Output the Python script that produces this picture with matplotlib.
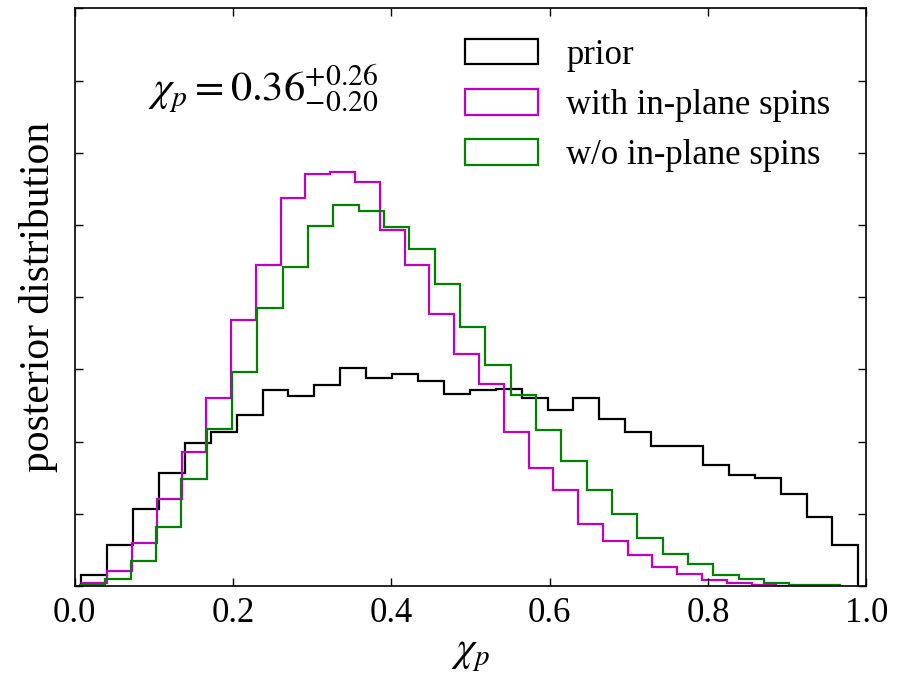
import numpy as np
import matplotlib
matplotlib.use("Agg")
import matplotlib.pyplot as plt
from matplotlib.patches import Patch

plt.rcParams['font.family'] = ['Liberation Serif', 'DejaVu Serif']
plt.rcParams['mathtext.fontset'] = 'stix'

# sample ranges of each histogram (30 bins each)
prior_range = (0.0085, 0.990)
with_range = (0.010, 0.949)
wo_range = (0.0067, 0.967)

prior_h = [0.15, 0.57, 1.06, 1.56, 1.98, 2.13, 2.37, 2.72, 2.63, 2.79,
           3.02, 2.88, 2.93, 2.84, 2.66, 2.72, 2.73, 2.60, 2.44, 2.61,
           2.32, 2.13, 1.94, 1.94, 1.68, 1.54, 1.49, 1.27, 0.96, 0.57]
with_h = [0.04, 0.21, 0.60, 1.20, 1.86, 2.60, 3.69, 4.45, 5.37, 5.71,
          5.74, 5.59, 4.93, 4.44, 3.77, 3.21, 2.80, 2.14, 1.63, 1.33,
          0.86, 0.63, 0.43, 0.27, 0.17, 0.08, 0.04, 0.015, 0.005, 0.003]
wo_h = [0.01, 0.10, 0.35, 0.82, 1.48, 2.18, 2.97, 3.85, 4.42, 4.99,
        5.28, 5.19, 4.97, 4.67, 4.19, 3.59, 3.06, 2.64, 2.16, 1.73,
        1.33, 1.00, 0.67, 0.45, 0.31, 0.15, 0.09, 0.04, 0.02, 0.01]

labels = ['prior', 'with in-plane spins', 'w/o in-plane spins']
colors = ['k', '#bf00bf', '#008000']
xticks = [0.0, 0.2, 0.4, 0.6, 0.8, 1.0]

fig = plt.figure(figsize=(9.09, 6.78), dpi=100)
ax = fig.add_axes([0.082, 0.1357, 0.871, 0.8518])

for h, rng, c, lab in zip([prior_h, with_h, wo_h],
                          [prior_range, with_range, wo_range], colors, labels):
    edges = np.linspace(rng[0], rng[1], len(h) + 1)
    ax.stairs(h, edges, color=c, lw=1.6, label=lab)

ax.set_xlim(0, 1)
ax.set_ylim(0, 8)
ax.set_xticks(xticks)
ax.set_xticklabels(['%.1f' % t for t in xticks])
ax.set_yticks(np.arange(0, 9))
ax.tick_params(direction='in', top=True, right=True, labelleft=False,
               length=6, width=1, labelsize=25, pad=8)
for s in ax.spines.values():
    s.set_linewidth(1.2)

ax.set_xlabel(r'$\chi_p$', fontsize=30, labelpad=4)
ax.set_ylabel('posterior distribution', fontsize=30, labelpad=12)

ax.text(0.093, 0.862, r'$\chi_p = 0.36^{+0.26}_{-0.20}$', transform=ax.transAxes,
        fontsize=30.5, va='center', ha='left')

handles = [Patch(facecolor='none', edgecolor=c, lw=1.6) for c in colors]
ax.legend(handles, labels, loc='upper right', bbox_to_anchor=(0.994, 1.002),
          frameon=False, fontsize=25, handlelength=2.1, handleheight=0.75,
          handletextpad=0.8, labelspacing=0.5)

fig.savefig('out.png', dpi=100)
